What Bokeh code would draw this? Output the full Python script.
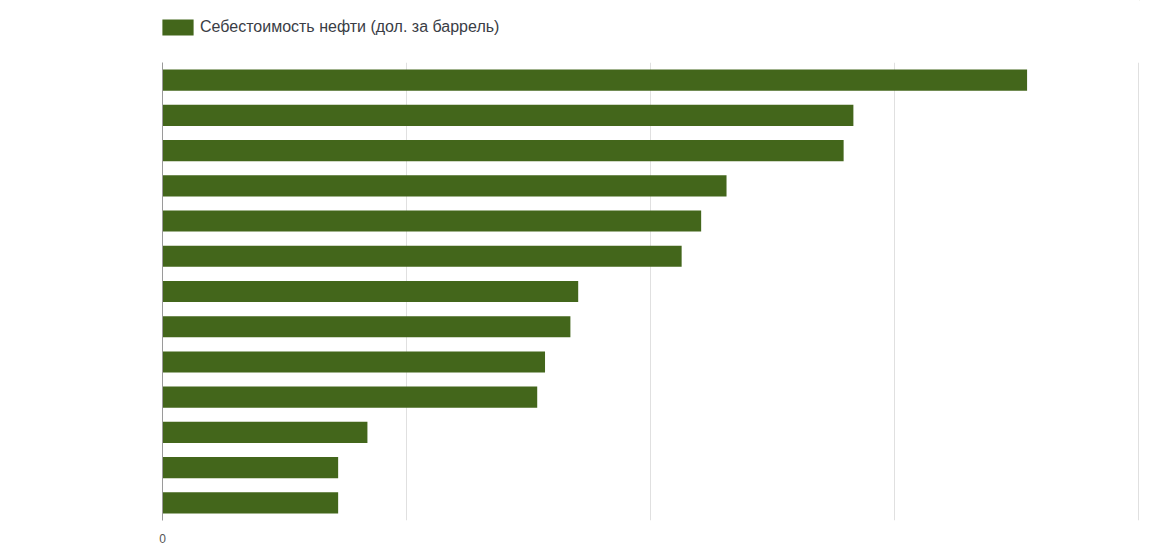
from bokeh.plotting import figure
from bokeh.layouts import column
from bokeh.models import FactorRange, Range1d, FixedTicker, Legend, LegendItem, ColumnDataSource
from bokeh.embed import file_html
from bokeh.resources import INLINE

# Data ($ per barrel)
categories = ["1", "2", "3", "4", "5", "6", "7", "8", "9", "10", "11", "12", "13"]
values = [44.3, 35.4, 34.9, 28.9, 27.6, 26.6, 21.3, 20.9, 19.6, 19.2, 10.5, 9.0, 9.0]
series_name = "Себестоимость нефти (дол. за баррель)"
x_ticks = [0, 12.5, 25, 37.5, 50]
bar_color = "#43661b"

src = ColumnDataSource(dict(cat=categories, val=values))

# Legend strip on top
lg = figure(width=1151, height=62, output_backend="svg", toolbar_location=None,
            x_range=Range1d(0, 1), y_range=Range1d(0, 1),
            min_border_left=0, min_border_right=0, min_border_top=0, min_border_bottom=0)
lg.axis.visible = False
lg.grid.grid_line_color = None
lg.outline_line_color = None
dummy = lg.hbar(y=[10], right=[20], left=15, height=0.5, fill_color=bar_color, line_color=None)
legend = Legend(items=[LegendItem(label=series_name, renderers=[dummy])],
                location=(-4, 25), orientation="horizontal",
                glyph_width=39, glyph_height=20, label_standoff=3,
                label_text_font="Liberation Sans", label_text_font_size="16px",
                label_text_color="#3a3d45", background_fill_alpha=0,
                border_line_color=None, padding=0, margin=0)
lg.add_layout(legend, "center")

p = figure(width=1151, height=488, output_backend="svg", toolbar_location=None,
           y_range=FactorRange(factors=list(reversed(categories))),
           x_range=Range1d(0, 50.06),
           min_border_left=162, min_border_right=12, min_border_top=0, min_border_bottom=30)

r = p.hbar(y="cat", right="val", left=0, height=0.6, source=src,
           fill_color=bar_color, line_color=None)

p.outline_line_color = None
p.background_fill_color = "white"
p.border_fill_color = "white"

# x axis
p.xaxis.ticker = FixedTicker(ticks=x_ticks)
p.xaxis.major_label_overrides = {t: ("0" if t == 0 else "") for t in x_ticks}
p.xaxis.axis_line_color = None
p.xaxis.major_tick_line_color = None
p.xaxis.minor_tick_line_color = None
p.xaxis.major_label_text_color = "#555555"
p.xaxis.major_label_text_font = "Liberation Sans"
p.xaxis.major_label_text_font_size = "12px"
p.xaxis.major_label_standoff = 7

# y axis
p.yaxis.axis_line_color = "#9a9a9a"
p.yaxis.axis_line_width = 1
p.yaxis.major_tick_line_color = None
p.yaxis.minor_tick_line_color = None
p.yaxis.major_label_text_font_size = "0px"
p.yaxis.major_label_text_color = None

p.xgrid.grid_line_color = "#e0e0e0"
p.xgrid.ticker = FixedTicker(ticks=x_ticks)
p.ygrid.grid_line_color = None

layout = column(lg, p, spacing=0)
open("out.html", "w").write(file_html(layout, INLINE))
